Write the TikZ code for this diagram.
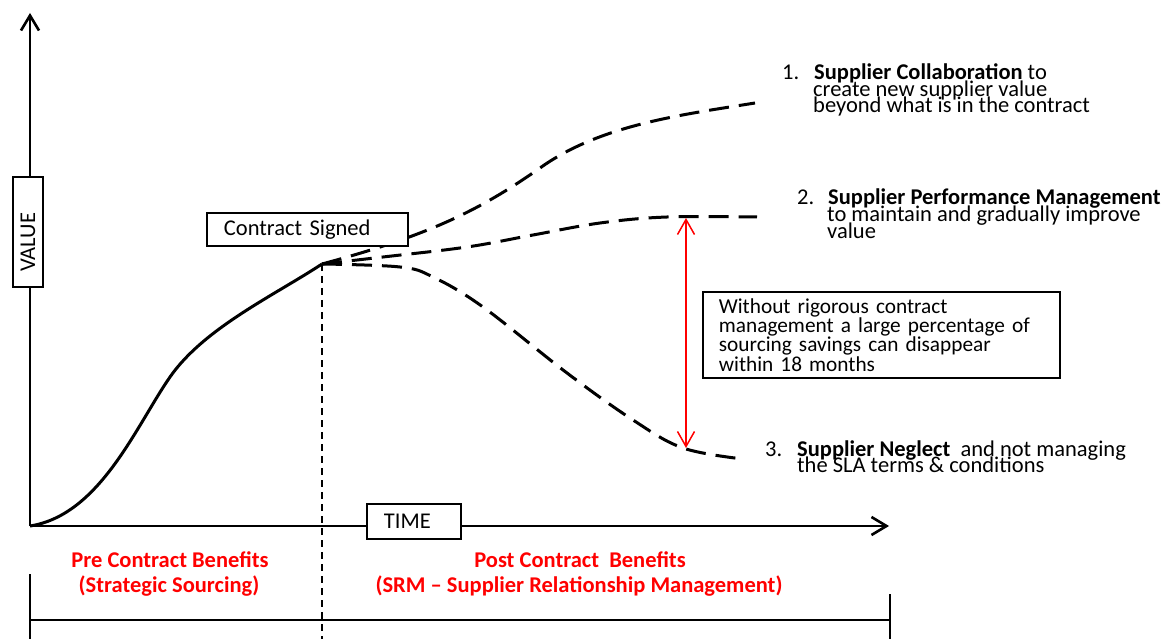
\documentclass[tikz,border=0pt]{standalone}
\usepackage{fontspec}
\setmainfont{Carlito}
\usetikzlibrary{arrows.meta}
\begin{document}
\begin{tikzpicture}[x=1pt,y=-1pt,
  txt/.style={anchor=base west, inner sep=0pt, font=\fontsize{22.5}{17}\selectfont},
  redtxt/.style={anchor=base, inner sep=0pt, text=red, font=\fontsize{22.5}{17}\selectfont\bfseries},
  boxed/.style={draw, line width=1.8pt, fill=white, inner ysep=0pt, align=left, font=\fontsize{22.5}{16.7}\selectfont},
  axisline/.style={line width=2.8pt, -{Straight Barb[length=15pt,width=18pt,line width=2.6pt]}},
  solidcurve/.style={line width=3pt, line join=round},
  dcurve/.style={line width=3pt, dash pattern=on 20pt off 10pt},
  thindash/.style={line width=1.5pt, dash pattern=on 7pt off 5pt},
  redarrow/.style={red, line width=1.5pt, {Straight Barb[length=15pt,width=17pt]}-{Straight Barb[length=15pt,width=17pt]}},
  bar/.style={line width=2.5pt}
]
\useasboundingbox (0,0) rectangle (1176,639);

% coordinates
\coordinate (O) at (30,526);
\coordinate (ytop) at (30,13);
\coordinate (xend) at (889,526);
\coordinate (cs) at (322,264);
\coordinate (vbot) at (322,639);
\coordinate (top2) at (686,218);
\coordinate (bot3) at (686,448);
\coordinate (barL) at (30,620);
\coordinate (barR) at (890,620);
\coordinate (tickLtop) at (30,574);
\coordinate (tickLbot) at (30,639);
\coordinate (tickRtop) at (890,594);
\coordinate (tickRbot) at (890,639);

% axes
\draw[axisline] (O) -- (ytop);
\draw[axisline] (O) -- (xend);

% vertical dashed line
\draw[thindash] (cs) -- (vbot);

% solid growth curve
\draw[solidcurve] (O) .. controls (100,515) and (136,426) .. (170,377)
                      .. controls (204,328) and (275,295) .. (cs);

% dashed scenario curves
\draw[dcurve] (cs) .. controls (430,235) and (480,210) .. (540,168)
                   .. controls (600,125) and (680,115) .. (755,103);
\draw[dcurve] plot[smooth, tension=0.6] coordinates {(cs) (383,257) (467,247) (533,235) (600,223) (667,217) (757,217)};
\draw[dcurve] plot[smooth, tension=0.6] coordinates {(cs) (400,267) (433,277) (483,307) (567,373) (633,420) (683,448) (743,459)};

% red double arrow
\draw[redarrow] (top2) -- (bot3);

% boxes
\node[boxed, anchor=north west, minimum height=33pt, inner xsep=17pt, text width=167pt] (signed) at (206,212) {Contract Signed};
\node[boxed, anchor=north west, minimum height=35pt, inner xsep=17pt, text width=60pt] (time) at (366,503) {TIME};
\node[boxed, rotate=90, minimum height=30pt, minimum width=110pt, inner xsep=15pt, text width=80pt] (value) at (28,232) {VALUE};
\node[boxed, anchor=north west, minimum height=86pt, inner xsep=16pt, text width=325pt, font=\fontsize{21.3}{16.7}\selectfont] (warn) at (702,291)
  {Without rigorous contract\\management a large percentage of\\sourcing savings can disappear\\within 18 months};

% scenario labels
\node[txt] (n1) at (782,80) {1.};
\node[txt] (l1a) at (814,80) {\textbf{Supplier Collaboration} to};
\node[txt] (l1b) at (813,97) {create new supplier value};
\node[txt] (l1c) at (813,113) {beyond what is in the contract};

\node[txt] (n2) at (797,205) {2.};
\node[txt] (l2a) at (828,205) {\textbf{Supplier Performance Management}};
\node[txt] (l2b) at (827,222) {to maintain and gradually improve};
\node[txt] (l2c) at (827,239) {value};

\node[txt] (n3) at (765,456) {3.};
\node[txt] (l3a) at (797,456) {\textbf{Supplier Neglect}\ \ and not managing};
\node[txt] (l3b) at (797,472) {the SLA terms \& conditions};

% bottom labels
\node[redtxt] (pre1) at (170,567) {Pre Contract Benefits};
\node[redtxt] (pre2) at (169,592) {(Strategic Sourcing)};
\node[redtxt] (post1) at (580,567) {Post Contract\ \ Benefits};
\node[redtxt] (post2) at (579,592) {(SRM -- Supplier Relationship Management)};

% bottom bar
\draw[bar] (barL) -- (barR);
\draw[bar] (tickLtop) -- (tickLbot);
\draw[bar] (tickRtop) -- (tickRbot);
\end{tikzpicture}
\end{document}
